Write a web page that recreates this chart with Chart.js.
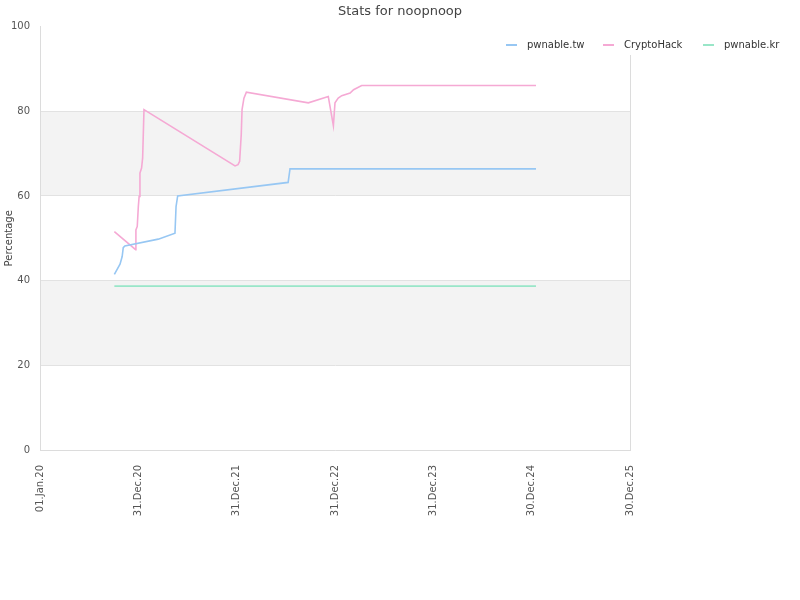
<!DOCTYPE html>
<html>
<head>
<meta charset="utf-8">
<script src="https://cdn.jsdelivr.net/npm/chart.js@4.4.1/dist/chart.umd.min.js"></script>
<style>
  html, body { margin: 0; padding: 0; background: #fff; }
  #wrap { width: 800px; height: 600px; }
</style>
</head>
<body>
<div id="wrap"><canvas id="c" width="800" height="600"></canvas></div>
<script>
const chartTitle = 'Stats for noopnoop';
const yAxisTitle = 'Percentage';
const seriesNames = ['pwnable.tw', 'CryptoHack', 'pwnable.kr'];
const seriesColors = ['#97c7f3', '#f5a9d4', '#99e6c8'];

const xTickDates = ['2020-01-01', '2020-12-31', '2021-12-31', '2022-12-31', '2023-12-31', '2024-12-30', '2025-12-30'];
const xTickLabels = ['01.Jan.20', '31.Dec.20', '31.Dec.21', '31.Dec.22', '31.Dec.23', '30.Dec.24', '30.Dec.25'];
const yTicks = [0, 20, 40, 60, 80, 100];

const twDates = ['2020-10-03', '2020-10-24', '2020-11-01', '2020-11-05', '2020-11-11', '2021-03-15', '2021-05-16', '2021-05-20', '2021-05-26', '2022-07-10', '2022-07-17', '2025-01-15'];
const twValues = [41.5, 43.9, 45.7, 47.8, 48.2, 49.8, 51.2, 57.5, 60.0, 63.2, 66.4, 66.4];

const chDates = ['2020-10-03', '2020-12-21', '2020-12-22', '2020-12-27', '2020-12-31', '2021-01-03', '2021-01-06', '2021-01-12', '2021-01-16', '2021-01-21', '2021-12-25', '2022-01-05', '2022-01-11', '2022-01-17', '2022-01-20', '2022-01-27', '2022-02-05', '2022-09-23', '2022-12-06', '2022-12-25', '2022-12-31', '2023-01-12', '2023-01-25', '2023-02-25', '2023-03-10', '2023-04-09', '2025-01-15'];
const chValues = [51.6, 47.3, 52.0, 52.8, 57.5, 59.9, 65.4, 66.6, 69.0, 80.4, 67.1, 67.4, 68.2, 74.5, 80.4, 83.1, 84.5, 82.0, 83.5, 76.6, 82.0, 83.1, 83.7, 84.3, 85.1, 86.1, 86.1];

const krDates = ['2020-10-03', '2025-01-15'];
const krValues = [38.7, 38.7];

const FONT = 'DejaVu Sans';
const LEGEND_X = [506, 603, 703];
const t = s => Date.parse(s + 'T00:00:00Z');
const toPts = (dates, vals) => dates.map((d, i) => ({ x: t(d), y: vals[i] }));

const bandsPlugin = {
  id: 'bands',
  beforeDraw(chart) {
    const { ctx, chartArea: a, scales: { y } } = chart;
    ctx.save();
    ctx.fillStyle = '#f3f3f3';
    [[20, 40], [60, 80]].forEach(([lo, hi]) => {
      const top = y.getPixelForValue(hi), bot = y.getPixelForValue(lo);
      ctx.fillRect(a.left, top, a.right - a.left, bot - top);
    });
    ctx.restore();
  },
  afterDraw(chart) {
    const { ctx, chartArea: a } = chart;
    ctx.save();
    ctx.strokeStyle = '#dcdcdc';
    ctx.lineWidth = 1;
    ctx.beginPath();
    ctx.moveTo(Math.round(a.right) + 0.5, a.top);
    ctx.lineTo(Math.round(a.right) + 0.5, a.bottom);
    ctx.stroke();
    ctx.fillStyle = '#ffffff';
    ctx.fillRect(495, 20, 300, 35);
    ctx.font = '10px "' + FONT + '"';
    ctx.textBaseline = 'middle';
    const yy = 45;
    chart.data.datasets.forEach((ds, i) => {
      const x = LEGEND_X[i];
      ctx.fillStyle = ds.borderColor;
      ctx.fillRect(x, yy - 1, 11, 2);
      ctx.fillStyle = '#333';
      ctx.fillText(ds.label, x + 21, yy);
    });
    ctx.restore();
  }
};

new Chart(document.getElementById('c'), {
  type: 'line',
  data: {
    datasets: [
      { label: seriesNames[0], yAxisID: 'y', data: toPts(twDates, twValues), borderColor: seriesColors[0], backgroundColor: seriesColors[0] },
      { label: seriesNames[1], yAxisID: 'y', data: toPts(chDates, chValues), borderColor: seriesColors[1], backgroundColor: seriesColors[1] },
      { label: seriesNames[2], yAxisID: 'y', data: toPts(krDates, krValues), borderColor: seriesColors[2], backgroundColor: seriesColors[2] }
    ]
  },
  options: {
    responsive: false,
    animation: false,
    parsing: false,
    elements: {
      line: { borderWidth: 1.6, tension: 0, fill: false },
      point: { radius: 0, hoverRadius: 0 }
    },
    layout: { padding: 0 },
    plugins: {
      legend: { display: false },
      tooltip: { enabled: false },
      title: {
        display: true,
        text: chartTitle,
        color: '#444',
        font: { family: FONT, size: 13, weight: 'normal' },
        padding: { top: 4, bottom: 7 }
      }
    },
    scales: {
      x: {
        type: 'linear',
        min: t(xTickDates[0]),
        max: t(xTickDates[xTickDates.length - 1]),
        afterBuildTicks: s => { s.ticks = xTickDates.map(d => ({ value: t(d) })); },
        afterFit: s => { s.height = 150; },
        ticks: {
          autoSkip: false,
          minRotation: 90,
          maxRotation: 90,
          padding: 15,
          color: '#555',
          font: { family: FONT, size: 10 },
          callback: (v, i) => xTickLabels[i]
        },
        grid: { color: 'transparent', drawTicks: false },
        border: { display: true, color: '#dcdcdc' }
      },
      y: {
        position: 'left',
        min: 0,
        max: 100,
        afterBuildTicks: s => { s.ticks = yTicks.map(v => ({ value: v })); },
        afterFit: s => { s.width = 40; },
        ticks: {
          padding: 10,
          color: '#555',
          font: { family: FONT, size: 10 }
        },
        grid: {
          drawTicks: false,
          color: c => (c.tick && c.tick.value === 100) ? 'transparent' : '#e2e2e2'
        },
        border: { display: true, color: '#dcdcdc' },
        title: {
          display: true,
          text: yAxisTitle,
          color: '#444',
          font: { family: FONT, size: 10 },
          padding: { top: 3, bottom: 0 }
        }
      },
      yR: {
        position: 'right',
        min: 0,
        max: 100,
        afterFit: s => { s.width = 170; },
        ticks: { display: false },
        grid: { display: false, drawOnChartArea: false, drawTicks: false },
        border: { display: false }
      }
    }
  },
  plugins: [bandsPlugin]
});
</script>
</body>
</html>
